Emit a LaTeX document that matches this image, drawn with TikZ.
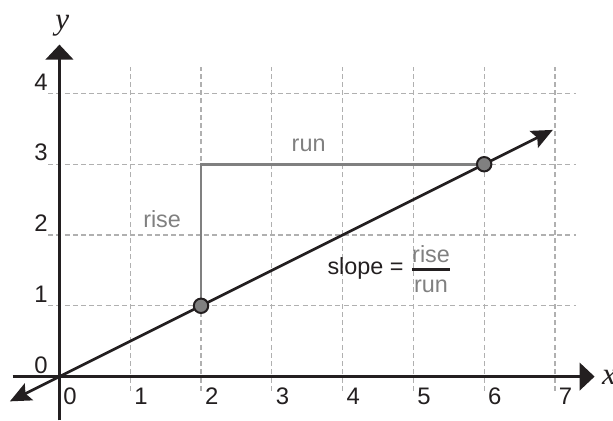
\documentclass[tikz,border=0pt]{standalone}
\usepackage{fontspec}
\setmainfont{Liberation Sans}
\newfontfamily\axisfont{Liberation Serif}
\usetikzlibrary{arrows.meta}
\definecolor{ink}{HTML}{231F20}
\definecolor{gridgray}{HTML}{B0B0B0}
\definecolor{midgray}{HTML}{808080}
\begin{document}
\begin{tikzpicture}[x=1cm,y=1cm,
  gridline/.style={gridgray, line width=0.45pt, dash pattern=on 2pt off 1.3pt},
  axisline/.style={ink, line width=1.1pt, -{Triangle[length=6pt,width=11pt]}},
  mainline/.style={ink, line width=1.1pt, {Stealth[length=8.5pt,width=7.5pt,inset=1.5pt]}-{Stealth[length=8.5pt,width=7.5pt,inset=1.5pt]}},
  riserun/.style={midgray, line width=1.1pt},
  pt/.style={circle, fill=midgray, draw=ink, line width=0.8pt, minimum size=5.8pt, inner sep=0pt},
  ticklbl/.style={font=\fontsize{9.6}{11}\selectfont, text=ink, inner sep=0pt},
  lbl/.style={font=\fontsize{9.4}{11}\selectfont, inner sep=0pt},
  axlbl/.style={font=\axisfont\itshape\fontsize{12.5}{14}\selectfont, text=ink, inner sep=0pt}
]
\useasboundingbox (-0.84,-0.62) rectangle (7.82,5.32);
% grid
\foreach \i in {1,...,7} \draw[gridline] (\i,-0.2) -- (\i,4.38);
\foreach \j in {1,...,4} \draw[gridline] (-0.16,\j) -- (7.3,\j);
% axes
\coordinate (xl) at (-0.66,0);
\coordinate (xr) at (7.56,0);
\coordinate (yb) at (0,-0.62);
\coordinate (yt) at (0,4.69);
\draw[axisline] (xl) -- (xr);
\draw[axisline] (yb) -- (yt);
\node[axlbl, anchor=base west] (xlab) at (7.66,-0.11) {x};
\node[axlbl, anchor=base] (ylab) at (0.04,4.90) {y};
% tick labels
\foreach \i in {0,...,7} \node[ticklbl, anchor=north west] (xt\i) at (\i+0.05,-0.155) {\i};
\foreach \j in {0,...,4} \node[ticklbl, anchor=south east] (yt\j) at (-0.16,\j+0.04) {\j};
% rise / run
\coordinate (c1) at (2,1);
\coordinate (c2) at (6,3);
\coordinate (corner) at (2,3);
\draw[riserun] (c1) -- (corner) -- (c2);
% slope line
\coordinate (ls) at (-0.7,-0.35);
\coordinate (le) at (6.97,3.485);
\draw[mainline] (ls) -- (le);
\node[pt] (p1) at (c1) {};
\node[pt] (p2) at (c2) {};
% labels
\node[lbl, text=midgray, anchor=base] (rise) at (1.45,2.10) {rise};
\node[lbl, text=midgray, anchor=base] (run) at (3.52,3.18) {run};
\node[lbl, text=ink, anchor=base west] (slope) at (3.78,1.441) {slope =};
\node[lbl, text=midgray, anchor=base] (num) at (5.25,1.61) {rise};
\node[lbl, text=midgray, anchor=base] (den) at (5.25,1.186) {run};
\coordinate (barl) at (4.98,1.511);
\coordinate (barr) at (5.52,1.511);
\draw[ink, line width=1.1pt] (barl) -- (barr);
\end{tikzpicture}
\end{document}
